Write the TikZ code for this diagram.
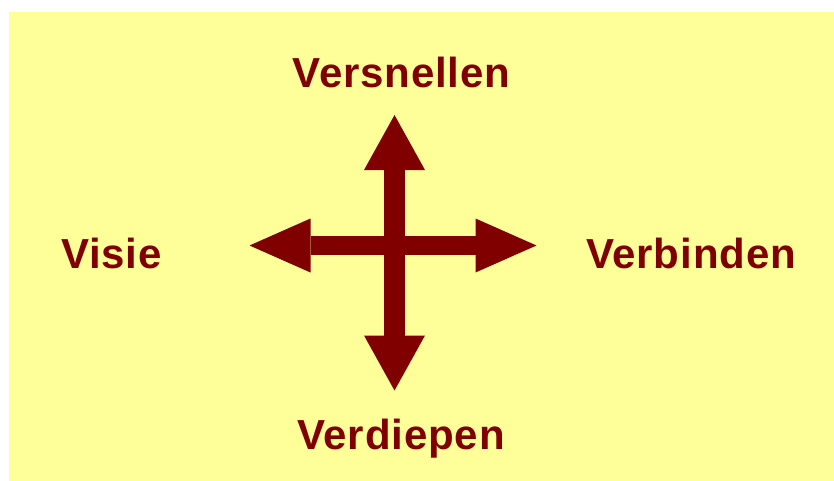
\documentclass[tikz,border=0pt]{standalone}
\usepackage{fontspec}
\setmainfont{Liberation Sans}
\newfontfamily\wordfont[LetterSpace=2]{Liberation Sans}
\usepackage{tikz}
\usetikzlibrary{arrows.meta, positioning}

\definecolor{darkred}{RGB}{128,0,0}
\definecolor{paleyellow}{RGB}{255,255,153}

\begin{document}
\begin{tikzpicture}[
			x=1pt, y=-1pt,
			every node/.style={font=\wordfont\fontsize{42}{50}\selectfont\bfseries},
			word/.style={
				text=darkred, inner sep=0pt, anchor=base
			},
			varrow/.style={
				-{Triangle[length=55pt,width=61pt,line width=0pt]},
				line width=20.5pt, draw=darkred, fill=darkred
			},
			harrow/.style={
				-{Triangle[length=61pt,width=54pt,line width=0pt]},
				line width=19pt, draw=darkred, fill=darkred
			}
			]
			
			\useasboundingbox (0,0) rectangle (834,481);
			\fill[paleyellow] (9,12) rectangle (834,481);
			
			\node[word] (versnellen) at (401.5,88) {Versnellen};
			\node[word] (verdiepen) at (401,449) {Verdiepen};
			\node[word] (visie) at (111.5,268) {Visie};
			\node[word] (verbinden) at (691,268) {Verbinden};
			
			\coordinate (mid) at (394.5,245.5);
			\coordinate (up) at (394.5,115);
			\coordinate (down) at (394.5,390.5);
			\coordinate (left) at (249.5,245.5);
			\coordinate (right) at (536.5,245.5);
			
			\draw[harrow] (mid) -- (left);
			\draw[harrow] (mid) -- (right);
			\draw[varrow] (mid) -- (up);
			\draw[varrow] (mid) -- (down);
		\end{tikzpicture}
\end{document}
